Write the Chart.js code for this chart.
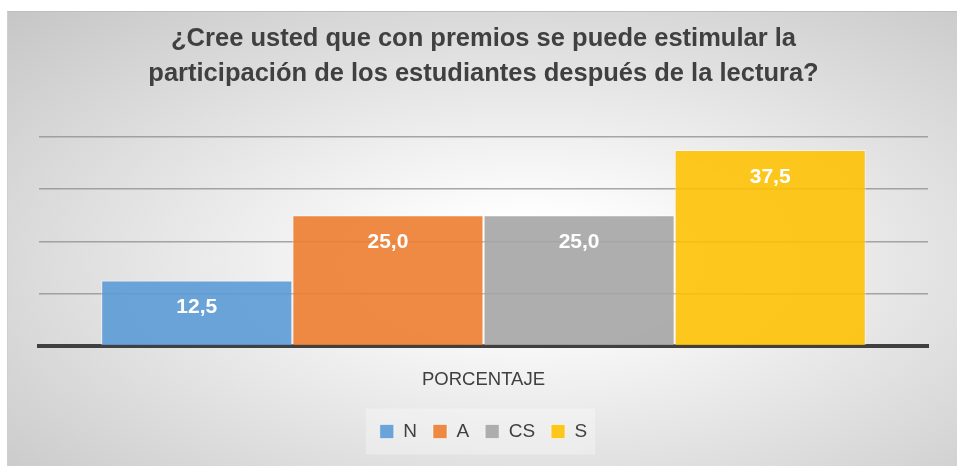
<!DOCTYPE html>
<html>
<head>
<meta charset="utf-8">
<script src="https://cdn.jsdelivr.net/npm/chart.js@4.4.1/dist/chart.umd.min.js"></script>
<style>
  html, body { margin: 0; padding: 0; background: #fff; }
  #wrap {
    position: absolute; left: 7px; top: 11px; width: 950px; height: 455px;
    background: radial-gradient(ellipse at 55% 55%, #ffffff 0%, #ffffff 12%, #c6c6c6 100%);
    border-top: 1px solid #bdbdbd; border-left: 1px solid #cfcfcf;
    box-sizing: border-box;
  }
</style>
</head>
<body>
<div id="wrap"><canvas id="barChart"></canvas></div>
<script>
// datos del gráfico
const categorias = ['PORCENTAJE'];
const series = ['N', 'A', 'CS', 'S'];
const valores = [12.5, 25.0, 25.0, 37.5];
const colores = ['rgba(91,155,213,0.9)', 'rgba(237,125,49,0.9)', 'rgba(165,165,165,0.9)', 'rgba(255,192,0,0.88)'];
const titulo = ['¿Cree usted que con premios se puede estimular la', 'participación de los estudiantes después de la lectura?'];

const FUENTE = "'Liberation Sans', Arial, sans-serif";

// etiquetas blancas dentro de las barras, cerca del extremo
const etiquetas = {
    id: 'etiquetas',
    afterDatasetsDraw(chart) {
        const ctx = chart.ctx;
        ctx.save();
        ctx.fillStyle = '#ffffff';
        ctx.font = 'bold 21px ' + FUENTE;
        ctx.textAlign = 'center';
        ctx.textBaseline = 'middle';
        chart.data.datasets.forEach((ds, i) => {
            const bar = chart.getDatasetMeta(i).data[0];
            const txt = ds.data[0].toFixed(1).replace('.', ',');
            ctx.fillText(txt, bar.x, bar.y + 27);
        });
        ctx.restore();
    }
};

// recuadro claro detrás de los elementos de la leyenda
const fondoLeyenda = {
    id: 'fondoLeyenda',
    beforeDraw(chart) {
        const lg = chart.legend;
        if (!lg || !lg.legendHitBoxes || !lg.legendHitBoxes.length) return;
        const cajas = lg.legendHitBoxes;
        const izq = Math.min(...cajas.map(b => b.left));
        const der = Math.max(...cajas.map(b => b.left + b.width));
        const cy = cajas[0].top + cajas[0].height / 2;
        const ctx = chart.ctx;
        ctx.save();
        ctx.fillStyle = 'rgba(255,255,255,0.3)';
        ctx.fillRect(izq - 14, cy - 23, der - izq + 22, 46);
        ctx.restore();
    }
};

const ctx = document.getElementById('barChart').getContext('2d');

const barChart = new Chart(ctx, {
    type: 'bar',
    data: {
        labels: categorias,
        datasets: series.map((s, i) => ({
            label: s,
            data: [valores[i]],
            backgroundColor: colores[i],
            borderColor: 'rgba(255,255,255,0.55)',
            borderWidth: 1,
            categoryPercentage: 0.86,
            barPercentage: 1.0
        }))
    },
    options: {
        responsive: true,
        maintainAspectRatio: false,
        animation: false,
        layout: { padding: { left: 31, right: 29, top: 0, bottom: 15 } },
        plugins: {
            title: {
                display: true,
                text: titulo,
                color: '#404040',
                font: { family: FUENTE, size: 25.5, weight: 'bold', lineHeight: 1.37 },
                padding: { top: 10, bottom: 45 }
            },
            legend: {
                position: 'bottom',
                labels: {
                    color: '#404040',
                    font: { family: FUENTE, size: 19 },
                    boxWidth: 14,
                    boxHeight: 14,
                    padding: 16
                }
            },
            tooltip: { enabled: false }
        },
        scales: {
            x: {
                grid: { display: false },
                border: { color: '#404040', width: 4 },
                ticks: { color: '#404040', font: { family: FUENTE, size: 18.5 }, padding: 15 }
            },
            y: {
                min: 0,
                max: 40,
                ticks: { display: false, stepSize: 10 },
                grid: { color: 'rgba(140,140,140,0.75)', lineWidth: 1.5, drawTicks: false },
                border: { display: false }
            }
        }
    },
    plugins: [etiquetas, fondoLeyenda]
});
</script>
</body>
</html>
